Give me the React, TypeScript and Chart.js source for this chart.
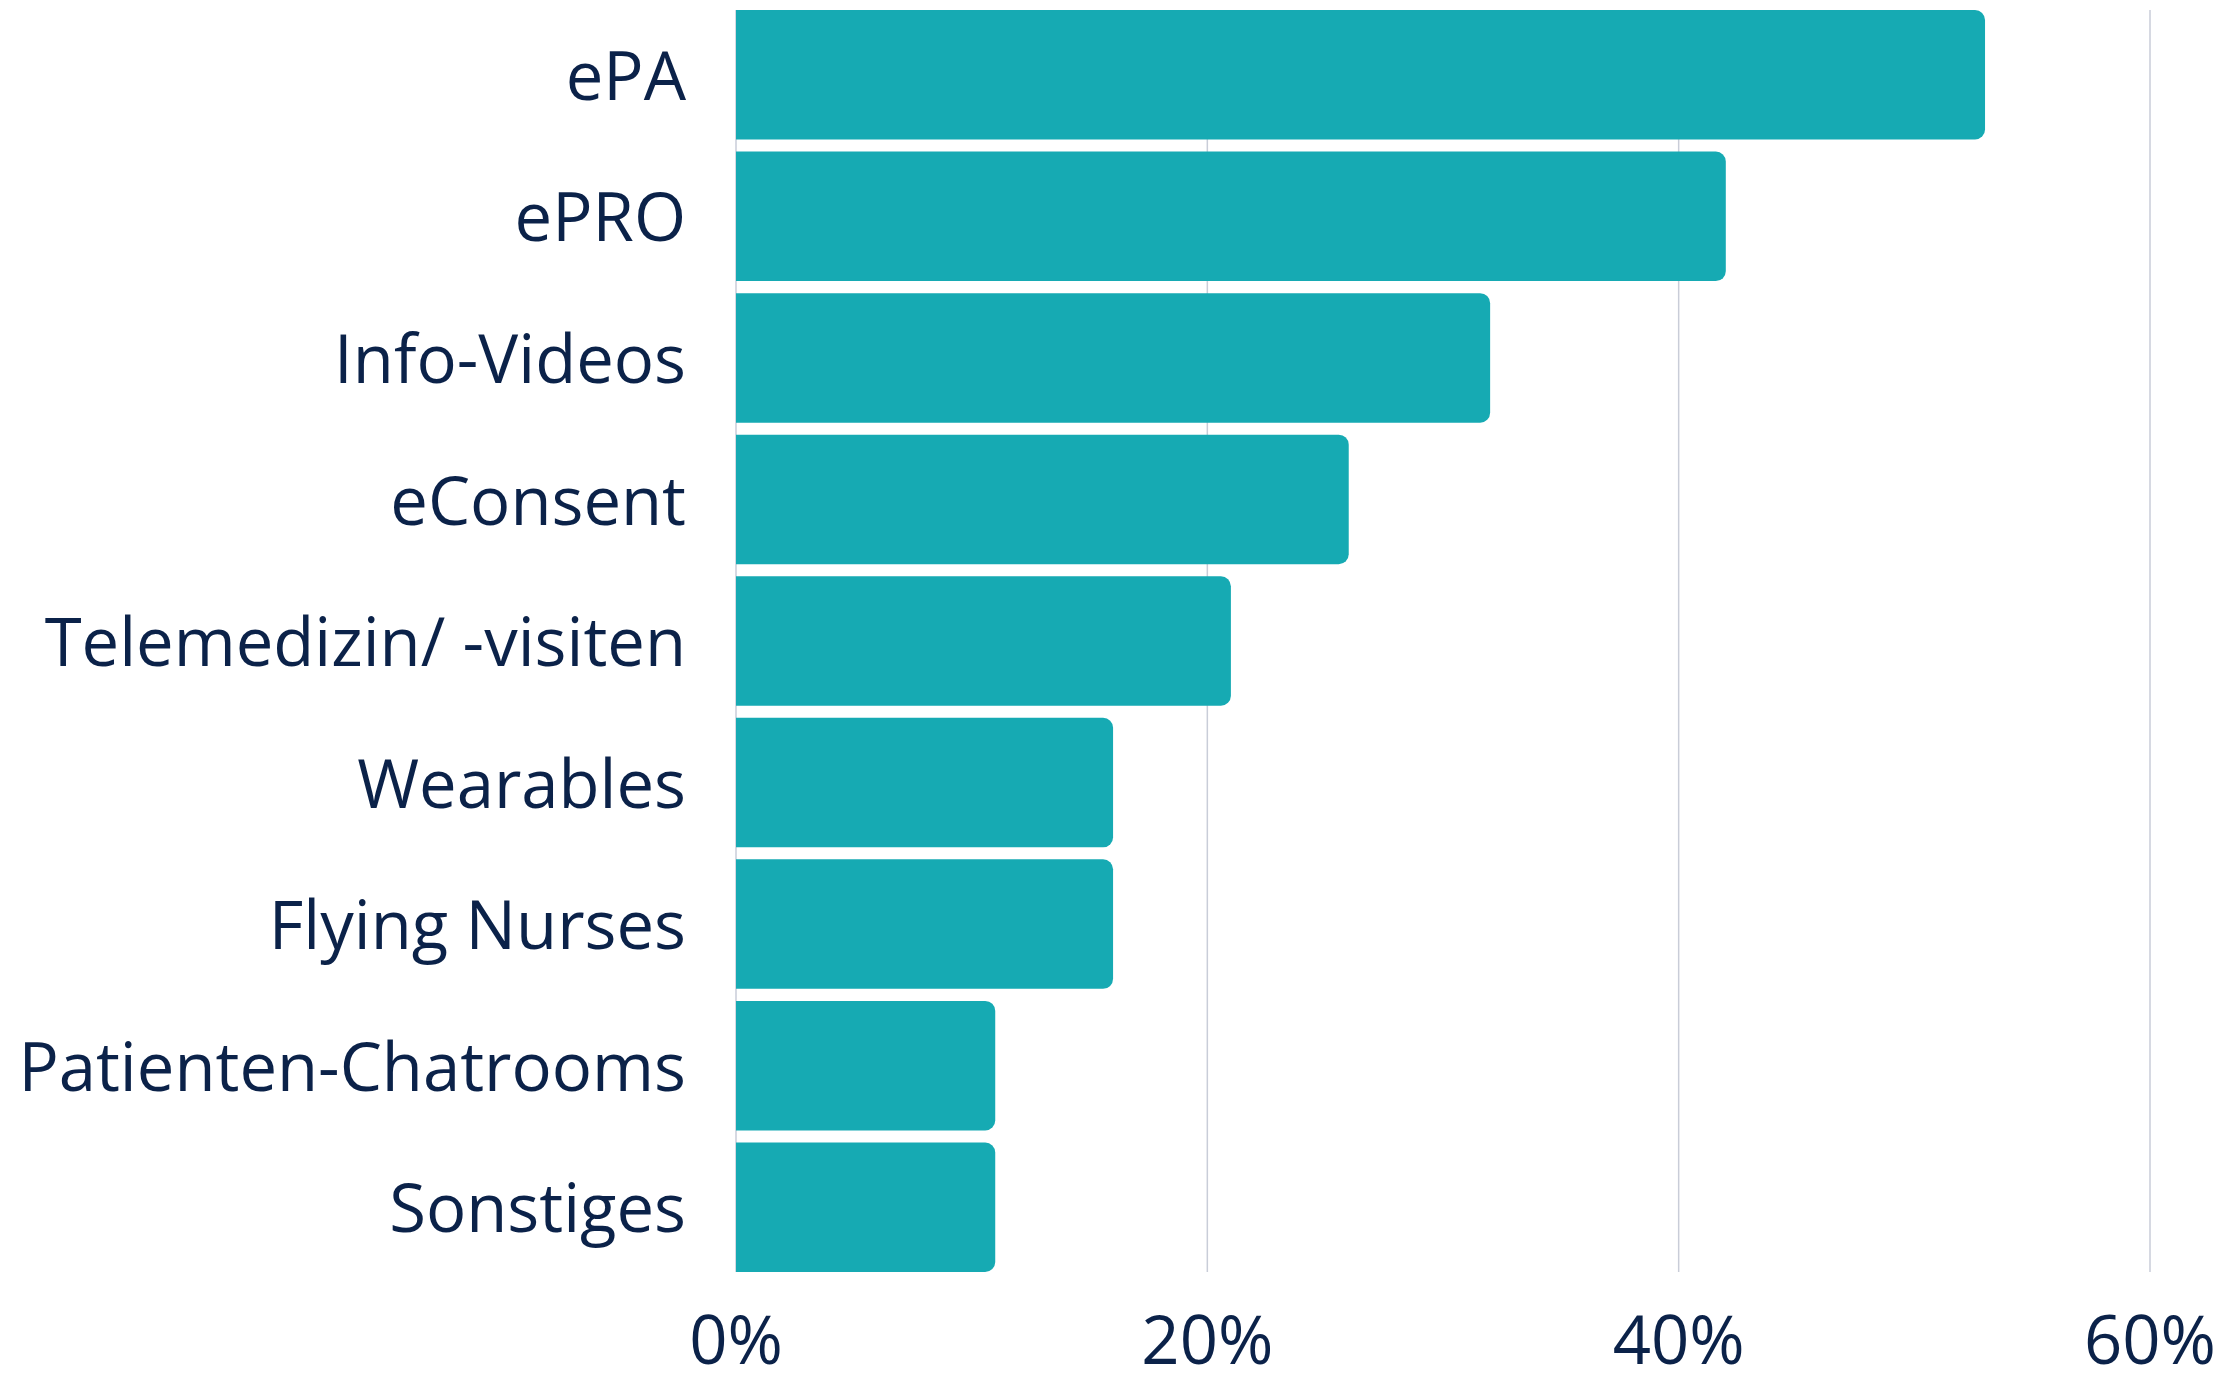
import React, { useEffect, useRef } from "react";
import { Chart, registerables } from "chart.js";

Chart.register(...registerables);

const categories = [
  "ePA",
  "ePRO",
  "Info-Videos",
  "eConsent",
  "Telemedizin/ -visiten",
  "Wearables",
  "Flying Nurses",
  "Patienten-Chatrooms",
  "Sonstiges",
];
const values = [53, 42, 32, 26, 21, 16, 16, 11, 11];
const xTicks = [0, 20, 40, 60];

const BAR = "#16AAB3";
const TEXT = "#0B2249";
const GRID = "#C9CDD8";
const FONT = "'Open Sans', Lato, sans-serif";

// Vertical grid lines spanning from the first bar's top to the last bar's bottom
const gridPlugin = {
  id: "barSpanGrid",
  beforeDatasetsDraw(chart: any) {
    const meta = chart.getDatasetMeta(0);
    const bars = meta.data;
    if (!bars.length) return;
    const first = bars[0];
    const last = bars[bars.length - 1];
    const top = first.y - first.height / 2;
    const bottom = last.y + last.height / 2;
    const xs = chart.scales.x;
    const ctx = chart.ctx;
    ctx.save();
    ctx.strokeStyle = GRID;
    ctx.lineWidth = 1.5;
    xs.ticks.forEach((t: any) => {
      const px = xs.getPixelForValue(t.value);
      ctx.beginPath();
      ctx.moveTo(px, top);
      ctx.lineTo(px, bottom);
      ctx.stroke();
    });
    ctx.restore();
  },
};

export default function App() {
  const ref = useRef<HTMLCanvasElement | null>(null);

  useEffect(() => {
    document.body.style.margin = "0";
    const canvas = ref.current!;
    const chart = new Chart(canvas, {
      type: "bar",
      data: {
        labels: categories,
        datasets: [
          {
            data: values,
            backgroundColor: BAR,
            borderWidth: 0,
            borderRadius: 10,
            borderSkipped: "start",
            barPercentage: 0.915,
            categoryPercentage: 1,
          },
        ],
      },
      plugins: [gridPlugin],
      options: {
        indexAxis: "y",
        animation: false,
        responsive: false,
        maintainAspectRatio: false,
        layout: { padding: { top: 4, right: 0, bottom: 0, left: 0 } },
        plugins: { legend: { display: false }, tooltip: { enabled: false } },
        scales: {
          x: {
            min: xTicks[0],
            max: xTicks[xTicks.length - 1],
            afterBuildTicks: (axis: any) => {
              axis.ticks = xTicks.map((v) => ({ value: v }));
            },
            afterFit: (axis: any) => {
              axis.height = 99;
              axis.paddingRight = 75;
              axis.paddingLeft = 0;
            },
            grid: { display: false, drawTicks: false },
            border: { display: false },
            ticks: {
              color: TEXT,
              font: { family: FONT, size: 67, weight: 500 },
              padding: 27,
              maxRotation: 0,
              callback: (v: any) => v + "%",
            },
          },
          y: {
            afterFit: (axis: any) => {
              axis.width = 736;
              axis.paddingTop = 0;
              axis.paddingBottom = 0;
            },
            grid: { display: false, drawTicks: false },
            border: { display: false },
            ticks: {
              color: TEXT,
              font: { family: FONT, size: 67, weight: 500 },
              padding: 50,
              labelOffset: 6,
            },
          },
        },
      },
    });
    return () => chart.destroy();
  }, []);

  return (
    <div style={{ width: 2225, height: 1377 }}>
      <canvas ref={ref} width={2225} height={1377} style={{ display: "block" }} />
    </div>
  );
}
